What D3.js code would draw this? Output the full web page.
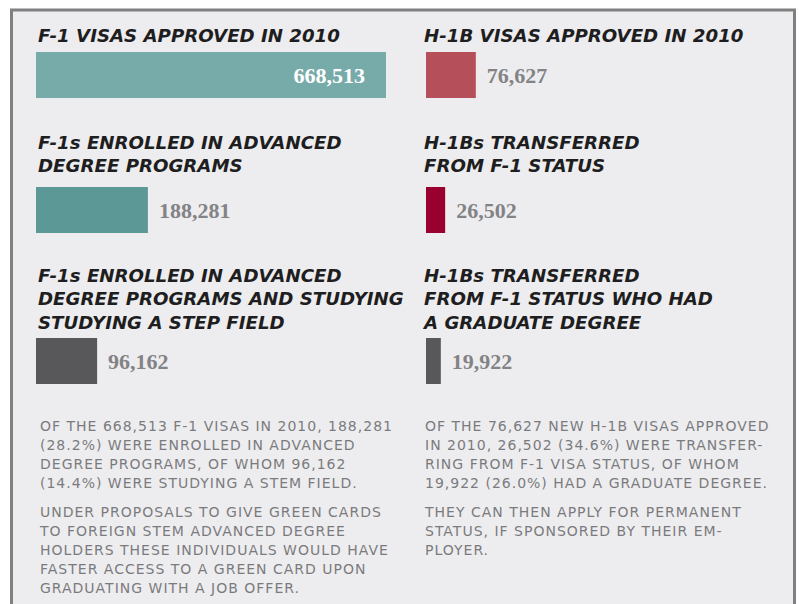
<!DOCTYPE html>
<html>
<head>
<meta charset="utf-8">
<script src="https://cdn.jsdelivr.net/npm/d3@7"></script>
<style>
  body { margin: 0; background: #fff; }
  .title { font-family: "DejaVu Sans", sans-serif; font-weight: bold; font-style: italic; font-size: 18.2px; fill: #1e1e20; }
  .num { font-family: "Liberation Serif", serif; font-weight: bold; font-size: 22px; }
  .note { font-family: "DejaVu Sans", sans-serif; font-size: 14px; letter-spacing: 1px; fill: #7b7b7d; }
</style>
</head>
<body>
<div id="chart"></div>
<script>
// values
var f1Titles = [
    ["F-1 VISAS APPROVED IN 2010"],
    ["F-1s ENROLLED IN ADVANCED", "DEGREE PROGRAMS"],
    ["F-1s ENROLLED IN ADVANCED", "DEGREE PROGRAMS AND STUDYING", "STUDYING A STEP FIELD"]
];
var f1Values = [668513, 188281, 96162];

var h1bTitles = [
    ["H-1B VISAS APPROVED IN 2010"],
    ["H-1Bs TRANSFERRED", "FROM F-1 STATUS"],
    ["H-1Bs TRANSFERRED", "FROM F-1 STATUS WHO HAD", "A GRADUATE DEGREE"]
];
var h1bValues = [76627, 26502, 19922];

var f1Notes = [
    ["OF THE 668,513 F-1 VISAS IN 2010, 188,281",
     "(28.2%) WERE ENROLLED IN ADVANCED",
     "DEGREE PROGRAMS, OF WHOM 96,162",
     "(14.4%) WERE STUDYING A STEM FIELD."],
    ["UNDER PROPOSALS TO GIVE GREEN CARDS",
     "TO FOREIGN STEM ADVANCED DEGREE",
     "HOLDERS THESE INDIVIDUALS WOULD HAVE",
     "FASTER ACCESS TO A GREEN CARD UPON",
     "GRADUATING WITH A JOB OFFER."]
];
var h1bNotes = [
    ["OF THE 76,627 NEW H-1B VISAS APPROVED",
     "IN 2010, 26,502 (34.6%) WERE TRANSFER-",
     "RING FROM F-1 VISA STATUS, OF WHOM",
     "19,922 (26.0%) HAD A GRADUATE DEGREE."],
    ["THEY CAN THEN APPLY FOR PERMANENT",
     "STATUS, IF SPONSORED BY THEIR EM-",
     "PLOYER."]
];

var f1Colors = ["#77aba9", "#5c9996", "#58585b"];
var h1bColors = ["#b5505a", "#99002f", "#58585b"];

var width = 799, height = 604;
var fmt = d3.format(",");

var svg = d3.select("#chart")
    .append("svg")
    .attr("width", width)
    .attr("height", height);

// frame
svg.append("rect")
    .attr("x", 11.5)
    .attr("y", 10)
    .attr("width", 783)
    .attr("height", 640)
    .attr("fill", "#ededf0")
    .attr("stroke", "#808080")
    .attr("stroke-width", 3);

// bar length scale (the original bars are drawn slightly compressed)
var x = d3.scalePow()
    .exponent(0.9)
    .domain([0, d3.max(f1Values)])
    .range([0, 350]);

// layout of the three rows
var rowBarY = [52, 187, 338];
var rowTitleY = [42, 149, 282];
var barH = 46;

function drawColumn(left, titleX, noteX, titles, values, colors, notes) {
    var g = svg.append("g").attr("transform", "translate(" + left + ",0)");

    titles.forEach(function (lines, i) {
        g.append("text")
            .attr("class", "title")
            .attr("y", rowTitleY[i])
            .selectAll("tspan")
            .data(lines)
            .enter()
            .append("tspan")
            .attr("x", titleX)
            .attr("dy", function (d, j) { return j == 0 ? 0 : 23.3; })
            .text(function (d) { return d; });
    });

    var rows = g.selectAll(".row")
        .data(values)
        .enter()
        .append("g")
        .attr("class", "row")
        .attr("transform", function (d, i) { return "translate(0," + rowBarY[i] + ")"; });

    rows.append("rect")
        .attr("x", 0)
        .attr("y", 0)
        .attr("width", function (d) { return x(d); })
        .attr("height", barH)
        .attr("fill", function (d, i) { return colors[i]; });

    // big bars get the label inside, the rest right after the bar
    rows.append("text")
        .attr("class", "num")
        .attr("x", function (d) { return x(d) > 200 ? x(d) - 21 : x(d) + 11; })
        .attr("y", barH / 2 + 8)
        .attr("text-anchor", function (d) { return x(d) > 200 ? "end" : "start"; })
        .attr("fill", function (d) { return x(d) > 200 ? "#ffffff" : "#838385"; })
        .text(function (d) { return fmt(d); });

    // notes below the bars
    var noteY = [431, 517];
    notes.forEach(function (lines, i) {
        g.append("text")
            .attr("class", "note")
            .attr("y", noteY[i])
            .selectAll("tspan")
            .data(lines)
            .enter()
            .append("tspan")
            .attr("x", noteX)
            .attr("dy", function (d, j) { return j == 0 ? 0 : 18.9; })
            .text(function (d) { return d; });
    });
}

drawColumn(36, 2, 4, f1Titles, f1Values, f1Colors, f1Notes);
drawColumn(426, -2, -1, h1bTitles, h1bValues, h1bColors, h1bNotes);
</script>
</body>
</html>
